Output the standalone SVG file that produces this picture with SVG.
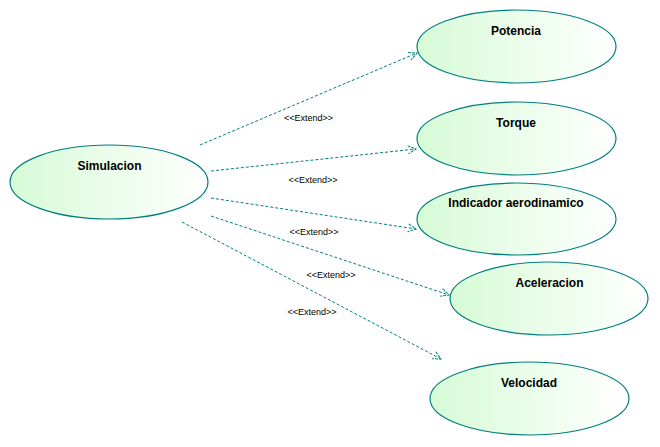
<svg xmlns="http://www.w3.org/2000/svg" width="660" height="447" viewBox="0 0 660 447">
<style>
.uc{stroke:#007f7f;stroke-width:1.2;fill:url(#g)}
.nt{font-family:"Liberation Sans",Arial,sans-serif;font-size:12px;font-weight:bold;fill:#000;text-anchor:middle}
.cn{stroke:#007f7f;stroke-width:1;fill:none;stroke-dasharray:3,2;marker-end:url(#arr)}
.lb{font-family:"Liberation Sans",Arial,sans-serif;font-size:9px;fill:#000;text-anchor:middle}
</style>
<defs>
<linearGradient id="g" x1="0" y1="0" x2="1" y2="0">
<stop offset="0" stop-color="#d6fbd6"/>
<stop offset="1" stop-color="#ffffff"/>
</linearGradient>
<marker id="arr" markerWidth="12" markerHeight="12" refX="10" refY="5" orient="auto" markerUnits="userSpaceOnUse">
<path d="M2,1 L10,5 L2,9" fill="none" stroke="#007f7f" stroke-width="1" stroke-dasharray="3,1"/>
</marker>
</defs>
<rect width="660" height="447" fill="#fff"/>
<g id="connectors">
<line class="cn" x1="200" y1="145" x2="417" y2="53"/>
<line class="cn" x1="211" y1="171" x2="416" y2="149"/>
<line class="cn" x1="211" y1="198" x2="416" y2="229"/>
<line class="cn" x1="211" y1="216" x2="449" y2="295"/>
<line class="cn" x1="182" y1="222" x2="441" y2="359"/>
<text class="lb" x="308.5" y="120.5">&lt;&lt;Extend&gt;&gt;</text>
<text class="lb" x="313" y="182.5">&lt;&lt;Extend&gt;&gt;</text>
<text class="lb" x="314" y="235">&lt;&lt;Extend&gt;&gt;</text>
<text class="lb" x="331" y="278">&lt;&lt;Extend&gt;&gt;</text>
<text class="lb" x="312" y="314.5">&lt;&lt;Extend&gt;&gt;</text>
</g>
<g id="simulacion">
<ellipse class="uc" cx="109" cy="182" rx="99" ry="37"/>
<text class="nt" x="109.5" y="170">Simulacion</text>
</g>
<g id="potencia">
<ellipse class="uc" cx="516.5" cy="46.5" rx="99.5" ry="36.5"/>
<text class="nt" x="516" y="34.5">Potencia</text>
</g>
<g id="torque">
<ellipse class="uc" cx="516.5" cy="138.5" rx="99.5" ry="36.5"/>
<text class="nt" x="516" y="126.5">Torque</text>
</g>
<g id="indicador">
<ellipse class="uc" cx="516.5" cy="219" rx="99.5" ry="36"/>
<text class="nt" x="516" y="207">Indicador aerodinamico</text>
</g>
<g id="aceleracion">
<ellipse class="uc" cx="549" cy="298.5" rx="99" ry="36.5"/>
<text class="nt" x="549.5" y="286.5">Aceleracion</text>
</g>
<g id="velocidad">
<ellipse class="uc" cx="529.5" cy="398.5" rx="99.5" ry="36.5"/>
<text class="nt" x="529" y="386.5">Velocidad</text>
</g>
</svg>
